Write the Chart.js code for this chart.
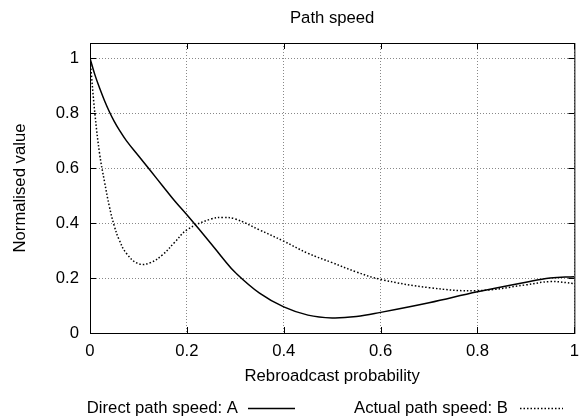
<!DOCTYPE html>
<html>
<head>
<meta charset="utf-8">
<script src="https://cdn.jsdelivr.net/npm/chart.js@4"></script>
<style>
  html, body { margin: 0; padding: 0; background: #fff; }
  #wrap { width: 587px; height: 420px; }
</style>
</head>
<body>
<div id="wrap"><canvas id="grafico" width="587" height="420"></canvas></div>
<script>
const probabilidade = [0, 0.01, 0.02, 0.03, 0.04, 0.05, 0.06, 0.075, 0.1, 0.125, 0.15, 0.175, 0.2, 0.25, 0.275, 0.3, 0.35, 0.4, 0.45, 0.5, 0.55, 0.6, 0.7, 0.8, 0.9, 0.95, 1];
const directSpeed = [1, 0.94, 0.89, 0.845, 0.805, 0.77, 0.74, 0.70, 0.645, 0.59, 0.535, 0.48, 0.43, 0.325, 0.27, 0.22, 0.145, 0.095, 0.065, 0.055, 0.06, 0.075, 0.11, 0.15, 0.185, 0.2, 0.205];
const actualSpeed = [1, 0.80, 0.65, 0.55, 0.46, 0.39, 0.34, 0.29, 0.252, 0.256, 0.285, 0.33, 0.375, 0.415, 0.42, 0.415, 0.375, 0.334, 0.29, 0.256, 0.222, 0.195, 0.165, 0.154, 0.175, 0.187, 0.18];
const xTicks = [0, 0.2, 0.4, 0.6, 0.8, 1];
const yTicks = [0, 0.2, 0.4, 0.6, 0.8, 1];
const chartTitle = "Path speed";

const FONT = { family: "'Liberation Sans', Arial, sans-serif", size: 16.7 };
const fmt = (v) => String(+Number(v).toFixed(2));

// title over the plot, frame, inward tick marks and the gnuplot-style key
const gnuplotFrame = {
  id: "gnuplotFrame",
  afterDraw(chart) {
    const { ctx, chartArea: a, scales } = chart;
    ctx.save();
    ctx.font = FONT.size + "px " + FONT.family;
    ctx.fillStyle = "#000";
    ctx.textAlign = "center";
    ctx.textBaseline = "middle";
    ctx.fillText(chartTitle, (a.left + a.right) / 2, 18);

    ctx.strokeStyle = "#000";
    ctx.lineWidth = 1;
    ctx.strokeRect(a.left + 0.5, a.top + 0.5, a.right - a.left, a.bottom - a.top);
    ctx.beginPath();
    xTicks.forEach((v) => {
      const px = Math.round(scales.x.getPixelForValue(v)) + 0.5;
      ctx.moveTo(px, a.bottom); ctx.lineTo(px, a.bottom - 6);
      ctx.moveTo(px, a.top); ctx.lineTo(px, a.top + 6);
    });
    yTicks.forEach((v) => {
      const py = Math.round(scales.y.getPixelForValue(v)) + 0.5;
      ctx.moveTo(a.left, py); ctx.lineTo(a.left + 6, py);
      ctx.moveTo(a.right, py); ctx.lineTo(a.right - 6, py);
    });
    ctx.stroke();

    // key
    const keyY = 408;
    const keys = [
      { textEnd: 238, x0: 248, x1: 295 },
      { textEnd: 508, x0: 520, x1: 563 },
    ];
    ctx.textAlign = "right";
    chart.data.datasets.forEach((ds, i) => {
      const k = keys[i];
      ctx.fillText(ds.label, k.textEnd, keyY);
      ctx.beginPath();
      ctx.lineWidth = ds.borderWidth;
      ctx.setLineDash(ds.borderDash || []);
      ctx.moveTo(k.x0, keyY + 0.5);
      ctx.lineTo(k.x1, keyY + 0.5);
      ctx.stroke();
    });
    ctx.restore();
  },
};

const ctx = document.getElementById("grafico").getContext("2d");
new Chart(ctx, {
  type: "line",
  data: {
    datasets: [{
      label: "Direct path speed: A",
      data: probabilidade.map((x, i) => ({ x: x, y: directSpeed[i] })),
      borderColor: "#000",
      borderWidth: 1.5,
      pointRadius: 0,
      tension: 0.4,
    }, {
      label: "Actual path speed: B",
      data: probabilidade.map((x, i) => ({ x: x, y: actualSpeed[i] })),
      borderColor: "#000",
      borderWidth: 1.5,
      borderDash: [1.5, 2],
      pointRadius: 0,
      tension: 0.4,
    }],
  },
  options: {
    responsive: false,
    animation: false,
    layout: { padding: { left: 0, right: 11, top: 43, bottom: 0 } },
    plugins: {
      legend: { display: false },
      tooltip: { enabled: false },
      title: { display: false },
    },
    scales: {
      x: {
        type: "linear",
        min: 0,
        max: 1,
        afterBuildTicks: (s) => { s.ticks = xTicks.map((v) => ({ value: v })); },
        afterFit: (s) => { s.height = 87; },
        ticks: { color: "#000", font: FONT, padding: 8, maxRotation: 0, callback: fmt },
        grid: { color: "#888", drawTicks: false },
        border: { display: false, dash: [1, 2] },
        title: { display: true, text: "Rebroadcast probability", color: "#000", font: FONT, padding: { top: 0, bottom: 34 } },
      },
      y: {
        min: 0,
        max: 1.055,
        afterBuildTicks: (s) => { s.ticks = yTicks.map((v) => ({ value: v })); },
        afterFit: (s) => { s.width = 90; },
        ticks: { color: "#000", font: FONT, padding: 11, callback: fmt },
        grid: { color: "#888", drawTicks: false },
        border: { display: false, dash: [1, 2] },
        title: { display: true, text: "Normalised value", color: "#000", font: FONT, padding: { top: 10, bottom: 0 } },
      },
    },
  },
  plugins: [gnuplotFrame],
});
</script>
</body>
</html>
